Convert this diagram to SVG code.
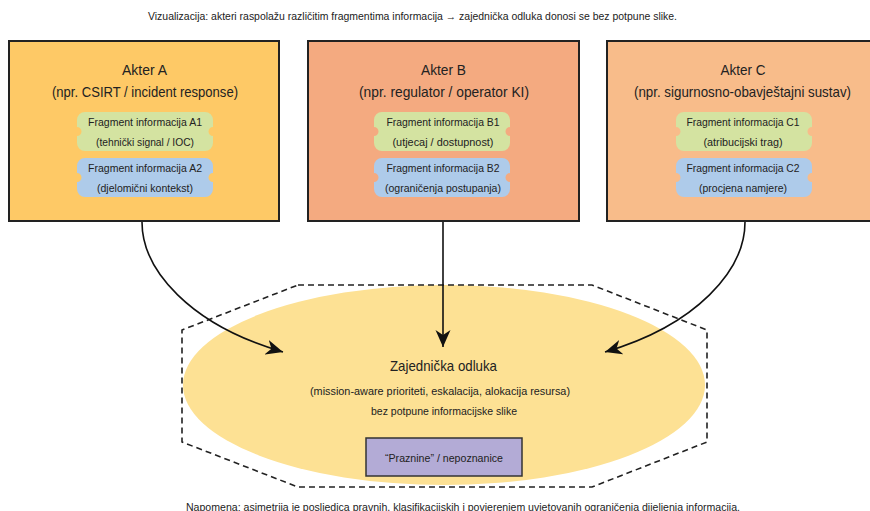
<svg xmlns="http://www.w3.org/2000/svg" width="870" height="511" viewBox="0 0 870 511">
<style>
  text { font-family: "Liberation Sans", Arial, sans-serif; fill: #222; text-anchor: middle; }
  .cap { font-size: 11px; }
  .ttl { font-size: 14.5px; }
  .frtxt { font-size: 11px; }
  .actor { stroke: #222; stroke-width: 2; }
  .green { fill: #d4e3a1; }
  .blue { fill: #aecbea; }
  .conn { fill: none; stroke: #111; stroke-width: 1.6; }
</style>
<defs>
  <path id="frag" d="M8,0 H128 A8,8 0 0 1 136,8 V15 A4.5,4.5 0 0 0 136,24 V31 A8,8 0 0 1 128,39 H8 A8,8 0 0 1 0,31 V24 A4.5,4.5 0 0 0 0,15 V8 A8,8 0 0 1 8,0 Z"/>
  <marker id="arr" markerUnits="userSpaceOnUse" markerWidth="18" markerHeight="16" viewBox="0 0 18 16" refX="17" refY="8" orient="auto">
    <path d="M0,0.5 L17,8 L0,15.5 L5,8 Z" fill="#111"/>
  </marker>
</defs>
<rect width="870" height="511" fill="#fff"/>

<text class="cap" x="412.5" y="20" textLength="529" lengthAdjust="spacingAndGlyphs">Vizualizacija: akteri raspolažu različitim fragmentima informacija → zajednička odluka donosi se bez potpune slike.</text>

<g id="decision">
  <ellipse cx="444" cy="385" rx="261" ry="100" fill="#fde194"/>
  <polygon points="298,285 592,285 707,330 707,442 592,487 298,487 182,442 182,330" fill="none" stroke="#222" stroke-width="1.6" stroke-dasharray="6 4"/>
  <text class="ttl" x="443.5" y="371" textLength="107" lengthAdjust="spacingAndGlyphs">Zajednička odluka</text>
  <text class="cap" x="440" y="395" textLength="260" lengthAdjust="spacingAndGlyphs">(mission-aware prioriteti, eskalacija, alokacija resursa)</text>
  <text class="cap" x="444" y="415" textLength="146" lengthAdjust="spacingAndGlyphs">bez potpune informacijske slike</text>
</g>

<g id="gaps">
  <rect x="366" y="438" width="156" height="38" fill="#b3abd6" stroke="#333" stroke-width="1.5"/>
  <text class="cap" x="444" y="462" textLength="118" lengthAdjust="spacingAndGlyphs">“Praznine” / nepoznanice</text>
</g>

<g id="actorA">
  <rect class="actor" x="9" y="41" width="270" height="180" fill="#fec966"/>
  <text class="ttl" x="144.5" y="75" textLength="45" lengthAdjust="spacingAndGlyphs">Akter A</text>
  <text class="ttl" x="145" y="97" textLength="186" lengthAdjust="spacingAndGlyphs">(npr. CSIRT / incident response)</text>
  <g id="fragA1">
    <use href="#frag" class="green" transform="translate(77,112)"/>
    <text class="frtxt" x="145" y="126" textLength="114" lengthAdjust="spacingAndGlyphs">Fragment informacija A1</text>
    <text class="frtxt" x="145" y="146" textLength="98" lengthAdjust="spacingAndGlyphs">(tehnički signal / IOC)</text>
  </g>
  <g id="fragA2">
    <use href="#frag" class="blue" transform="translate(77,158)"/>
    <text class="frtxt" x="145" y="172" textLength="114" lengthAdjust="spacingAndGlyphs">Fragment informacija A2</text>
    <text class="frtxt" x="145" y="192" textLength="96" lengthAdjust="spacingAndGlyphs">(djelomični kontekst)</text>
  </g>
</g>

<g id="actorB">
  <rect class="actor" x="308" y="41" width="271" height="180" fill="#f4aa80"/>
  <text class="ttl" x="443.5" y="75" textLength="45" lengthAdjust="spacingAndGlyphs">Akter B</text>
  <text class="ttl" x="444" y="97" textLength="170" lengthAdjust="spacingAndGlyphs">(npr. regulator / operator KI)</text>
  <g id="fragB1">
    <use href="#frag" class="green" transform="translate(374,112)"/>
    <text class="frtxt" x="443" y="126" textLength="113" lengthAdjust="spacingAndGlyphs">Fragment informacija B1</text>
    <text class="frtxt" x="443" y="146" textLength="101" lengthAdjust="spacingAndGlyphs">(utjecaj / dostupnost)</text>
  </g>
  <g id="fragB2">
    <use href="#frag" class="blue" transform="translate(374,158)"/>
    <text class="frtxt" x="443" y="172" textLength="113" lengthAdjust="spacingAndGlyphs">Fragment informacija B2</text>
    <text class="frtxt" x="443" y="192" textLength="116" lengthAdjust="spacingAndGlyphs">(ograničenja postupanja)</text>
  </g>
</g>

<g id="actorC">
  <rect class="actor" x="607" y="41" width="272" height="180" fill="#f8bc8a"/>
  <text class="ttl" x="743" y="75" textLength="45" lengthAdjust="spacingAndGlyphs">Akter C</text>
  <text class="ttl" x="742.5" y="97" textLength="217" lengthAdjust="spacingAndGlyphs">(npr. sigurnosno-obavještajni sustav)</text>
  <g id="fragC1">
    <use href="#frag" class="green" transform="translate(676,112)"/>
    <text class="frtxt" x="743" y="126" textLength="113" lengthAdjust="spacingAndGlyphs">Fragment informacija C1</text>
    <text class="frtxt" x="743" y="146" textLength="79" lengthAdjust="spacingAndGlyphs">(atribucijski trag)</text>
  </g>
  <g id="fragC2">
    <use href="#frag" class="blue" transform="translate(676,158)"/>
    <text class="frtxt" x="743" y="172" textLength="113" lengthAdjust="spacingAndGlyphs">Fragment informacija C2</text>
    <text class="frtxt" x="743" y="192" textLength="88" lengthAdjust="spacingAndGlyphs">(procjena namjere)</text>
  </g>
</g>

<g id="connectors">
  <path class="conn" d="M142,222 C142,270 190,325 283,352" marker-end="url(#arr)"/>
  <path class="conn" d="M443,222 L443,347" marker-end="url(#arr)"/>
  <path class="conn" d="M745,222 C745,270 697,325 605,352" marker-end="url(#arr)"/>
</g>

<text class="cap" x="463" y="511" textLength="554" lengthAdjust="spacingAndGlyphs">Napomena: asimetrija je posljedica pravnih, klasifikacijskih i povjerenjem uvjetovanih ograničenja dijeljenja informacija.</text>
</svg>
